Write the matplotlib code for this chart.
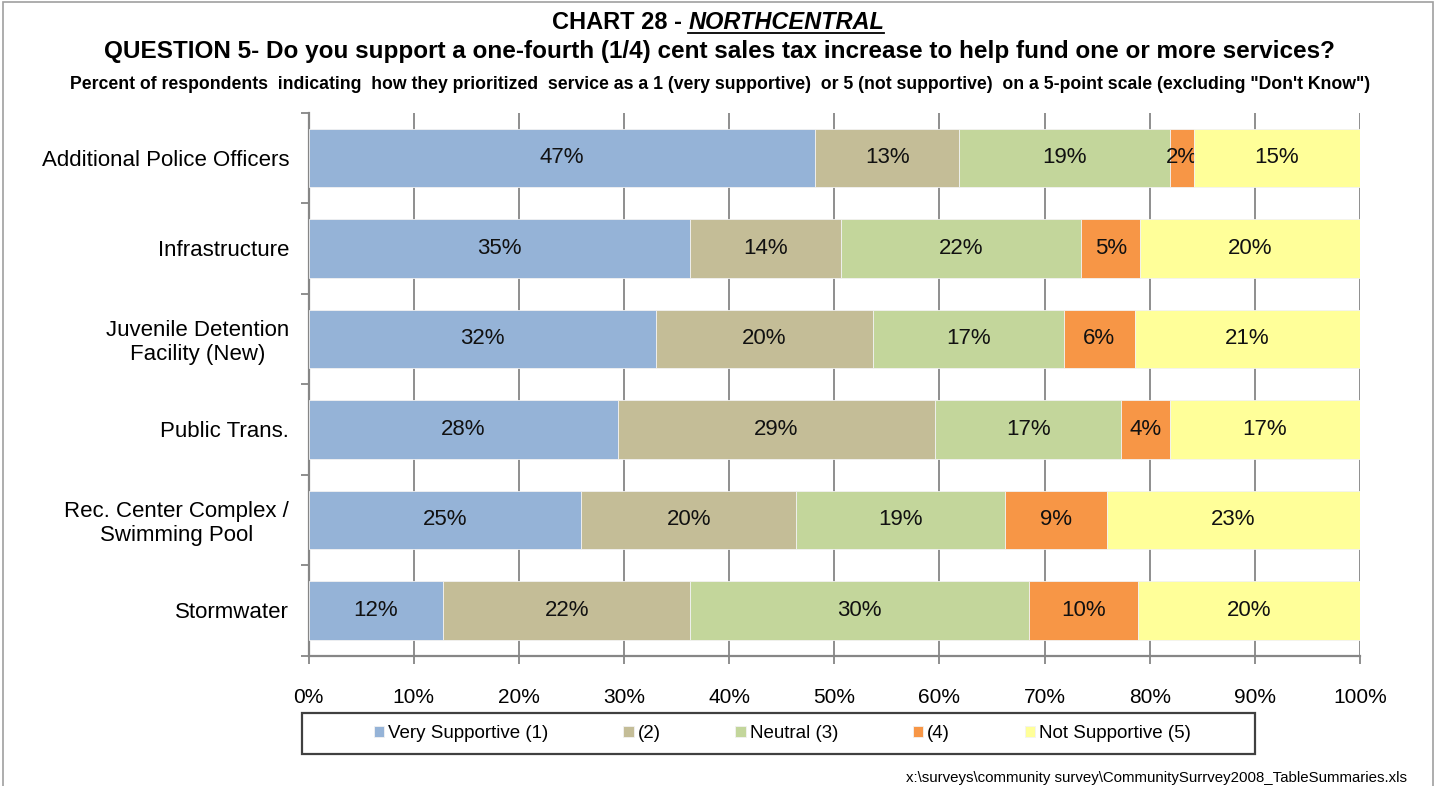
import matplotlib
matplotlib.use("Agg")
import matplotlib.pyplot as plt
import matplotlib.patches as patches
import numpy as np

# categories, top to bottom
services = ["Additional Police Officers", "Infrastructure", "Juvenile Detention\nFacility (New)",
            "Public Trans.", "Rec. Center Complex /\nSwimming Pool", "Stormwater"]
series = ["Very Supportive (1)", "(2)", "Neutral (3)", "(4)", "Not Supportive (5)"]
colors = ["#95B3D7", "#C4BD97", "#C3D69B", "#F79646", "#FFFF99"]

# bar widths (share of the 100% bar)
very_supportive = [48.2, 36.3, 33.0, 29.4, 25.9, 12.8]
level_2 = [13.7, 14.3, 20.7, 30.2, 20.5, 23.5]
neutral = [20.0, 22.9, 18.1, 17.7, 19.8, 32.2]
level_4 = [2.3, 5.6, 6.8, 4.6, 9.7, 10.4]
not_supportive = [15.8, 20.9, 21.4, 18.1, 24.1, 21.1]

# the percentages printed on the bars
lbl_very = [47, 35, 32, 28, 25, 12]
lbl_2 = [13, 14, 20, 29, 20, 22]
lbl_neutral = [19, 22, 17, 17, 19, 30]
lbl_4 = [2, 5, 6, 4, 9, 10]
lbl_not = [15, 20, 21, 17, 23, 20]

plt.rcParams['font.family'] = ['Liberation Sans', 'DejaVu Sans']
title_font = ['Liberation Sans Narrow', 'Liberation Sans', 'DejaVu Sans']

fig = plt.figure(figsize=(14.37, 7.86), dpi=100)
ax = fig.add_axes([0.2148, 0.1658, 0.9464 - 0.2148, 0.8566 - 0.1658])

values = [very_supportive, level_2, neutral, level_4, not_supportive]
labels = [lbl_very, lbl_2, lbl_neutral, lbl_4, lbl_not]
y = np.arange(len(services))
left = np.zeros(len(services))
for vals, lbls, name, col in zip(values, labels, series, colors):
    bars = ax.barh(y, vals, left=left, height=0.65, color=col, edgecolor='#F2F2F2',
                   linewidth=0.6, label=name, zorder=3)
    ax.bar_label(bars, labels=['{}%'.format(v) for v in lbls], label_type='center',
                 fontsize=16, color='#111111')
    left += np.array(vals)

ax.set_xlim(0, 100)
ax.set_ylim(len(services) - 0.5, -0.5)
ax.set_xticks(np.arange(0, 101, 10))
ax.set_xticklabels(['{}%'.format(t) for t in range(0, 101, 10)], fontsize=15)
ax.set_yticks(y)
ax.set_yticklabels(services, fontsize=16, multialignment='center', linespacing=1.15)
ax.set_yticks(np.arange(-0.5, len(services), 1), minor=True)

ax.grid(axis='x', color='#868686', linewidth=1.3, zorder=0)
ax.set_axisbelow(True)
ax.tick_params(axis='y', which='major', length=0, pad=14)
ax.tick_params(axis='y', which='minor', length=6, width=1.3, color='#868686')
ax.tick_params(axis='x', length=6, width=1.3, color='#868686', pad=17)
for side in ['top', 'right']:
    ax.spines[side].set_visible(False)
for side in ['left', 'bottom']:
    ax.spines[side].set_color('#868686')
    ax.spines[side].set_linewidth(1.6)

# titles
fig.text(0.479, 0.971, 'CHART 28 - ', fontsize=17, fontweight='bold', family=title_font,
         ha='right', va='center')
t = fig.text(0.479, 0.971, 'NORTHCENTRAL', fontsize=17, fontweight='bold', style='italic',
             family=title_font, ha='left', va='center')
fig.canvas.draw()
bb = t.get_window_extent().transformed(fig.transFigure.inverted())
fig.add_artist(plt.Line2D([bb.x0, bb.x1], [bb.y0 + 0.002, bb.y0 + 0.002], color='black',
                          linewidth=1.3, transform=fig.transFigure))
fig.text(0.501, 0.935,
         'QUESTION 5- Do you support a one-fourth (1/4) cent sales tax increase to help fund one or more services?',
         fontsize=17.5, fontweight='bold', family=title_font, ha='center', va='center')
fig.text(0.501, 0.893,
         'Percent of respondents  indicating  how they prioritized  service as a 1 (very supportive)  or 5 (not supportive)  on a 5-point scale (excluding "Don\'t Know")',
         fontsize=12.7, fontweight='bold', family=title_font, ha='center', va='center')

# legend with its own box
fig.add_artist(patches.Rectangle((302.3 / 1437, 1 - 754 / 786), (1255 - 302.3) / 1437, 41.3 / 786,
                                 transform=fig.transFigure, fill=False, edgecolor='#404040',
                                 linewidth=1.6))
fig.legend(loc='center', bbox_to_anchor=(0.5445, 0.0669), ncol=5, frameon=False, fontsize=13.5,
           handlelength=0.55, handleheight=0.55, handletextpad=0.2, columnspacing=4.0)

fig.text(0.979, 0.01, 'x:\\surveys\\community survey\\CommunitySurrvey2008_TableSummaries.xls',
         fontsize=10.8, family=title_font, ha='right', va='center')

# outer chart border
fig.add_artist(patches.Rectangle((0.002, -0.01), 0.995, 1.007, transform=fig.transFigure,
                                 fill=False, edgecolor='#A0A0A0', linewidth=1.2))

fig.savefig('out.png', dpi=100)
